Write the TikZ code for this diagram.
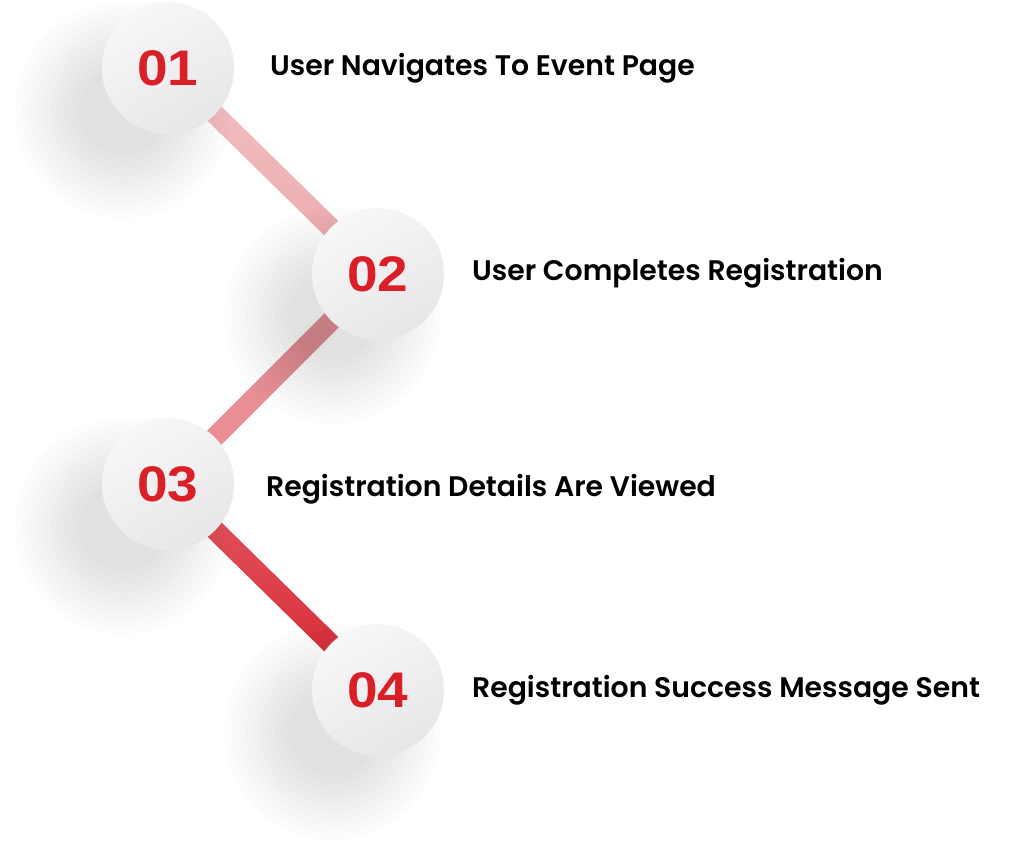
\documentclass[tikz,border=0pt]{standalone}
\usepackage{fontspec}
\usetikzlibrary{backgrounds,calc}
\newfontfamily\labelfont{Poppins SemiBold}
\newfontfamily\numfont{Liberation Sans}[FakeStretch=1.1]
\definecolor{numred}{HTML}{DA1F27}
\definecolor{circA}{HTML}{F8F7F8}
\definecolor{circB}{HTML}{E8E6E8}
\definecolor{lnAtop}{HTML}{F3C3C6}
\definecolor{lnAbot}{HTML}{EBA7AC}
\definecolor{lnBtop}{HTML}{E0939A}
\definecolor{lnBbot}{HTML}{EF8A92}
\definecolor{lnCtop}{HTML}{E25A64}
\definecolor{lnCbot}{HTML}{D6252F}
\tikzset{
  stepcircle/.style={circle, minimum size=132pt, inner sep=0pt,
    top color=circA, bottom color=circB, shading angle=30,
    font=\numfont\bfseries\fontsize{50}{50}\selectfont, text=numred},
  steplabel/.style={anchor=west, inner sep=0pt, text=black,
    font=\labelfont\fontsize{28.3}{29}\selectfont},
  softshadow/.style={fill=black, opacity=0.01}
}
\newcommand{\stepshadow}[1]{%
  \foreach \r in {108,101,...,45} {\fill[softshadow] ($(#1)+(-45,42)$) circle[radius=\r];}}
\begin{document}
\begin{tikzpicture}[x=1pt,y=-1pt]
\useasboundingbox (0,0) rectangle (1024,851);
\node[stepcircle] (c1) at (168,68) {01};
\node[stepcircle] (c2) at (378,274) {02};
\node[stepcircle] (c3) at (168,484) {03};
\node[stepcircle] (c4) at (378,690) {04};
\node[steplabel] (l1) at (270,68) {User Navigates To Event Page};
\node[steplabel] (l2) at (472,273) {User Completes Registration};
\node[steplabel] (l3) at (266,489) {Registration Details Are Viewed};
\node[steplabel] (l4) at (472,690) {Registration Success Message Sent};
\begin{scope}[on background layer]
\shade[top color=lnAtop, bottom color=lnAbot]
  ($(c1.center)!10pt!90:(c2.center)$) -- ($(c1.center)!10pt!-90:(c2.center)$) --
  ($(c2.center)!10pt!90:(c1.center)$) -- ($(c2.center)!10pt!-90:(c1.center)$) -- cycle;
\shade[top color=lnBtop, bottom color=lnBbot]
  ($(c2.center)!10pt!90:(c3.center)$) -- ($(c2.center)!10pt!-90:(c3.center)$) --
  ($(c3.center)!10pt!90:(c2.center)$) -- ($(c3.center)!10pt!-90:(c2.center)$) -- cycle;
\shade[top color=lnCtop, bottom color=lnCbot]
  ($(c3.center)!10pt!90:(c4.center)$) -- ($(c3.center)!10pt!-90:(c4.center)$) --
  ($(c4.center)!10pt!90:(c3.center)$) -- ($(c4.center)!10pt!-90:(c3.center)$) -- cycle;
\stepshadow{c1}\stepshadow{c2}\stepshadow{c3}\stepshadow{c4}
\end{scope}
\end{tikzpicture}
\end{document}
